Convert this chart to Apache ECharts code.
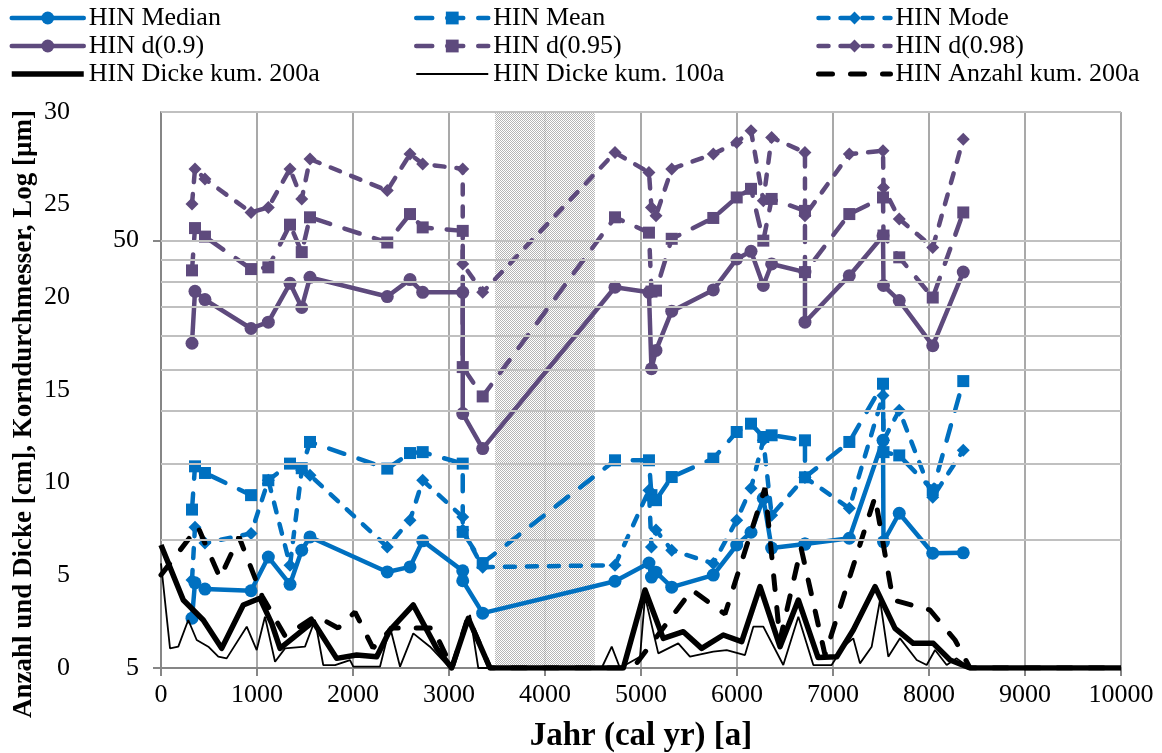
<!DOCTYPE html>
<html><head><meta charset="utf-8">
<script src="https://cdn.jsdelivr.net/npm/echarts@6/dist/echarts.min.js"></script>
<style>html,body{margin:0;padding:0;background:#fff}#c{width:1162px;height:753px}</style>
</head><body><div id="c"></div>
<script>
// ---- data ----
const grainYears = [323, 354, 458, 938, 1118, 1344, 1466, 1552, 2357, 2594, 2726, 3143, 3143, 3351, 4729, 5083, 5109, 5156, 5320, 5753, 5997, 6146, 6274, 6361, 6708, 6708, 7170, 7521, 7526, 7690, 8039, 8357];
const median = [6.54, 7.91, 7.65, 7.58, 9.09, 7.85, 9.43, 10.13, 8.39, 8.62, 9.92, 8.44, 8.0, 6.72, 7.98, 8.80, 8.16, 8.38, 7.73, 8.25, 9.70, 10.39, 12.48, 9.54, 9.75, 9.75, 10.06, 17.05, 9.87, 11.51, 9.28, 9.30];
const mean = [11.74, 14.82, 14.30, 12.69, 13.75, 15.04, 14.67, 16.90, 14.64, 15.92, 16.0, 15.04, 10.41, 8.80, 15.31, 15.31, 12.69, 12.35, 13.99, 15.45, 17.83, 18.65, 17.36, 17.52, 17.05, 13.97, 16.90, 23.13, 16.0, 15.72, 13.03, 23.46];
const mode = [8.03, 10.68, 9.80, 10.32, 13.75, 8.70, 14.51, 14.13, 9.60, 11.09, 13.75, 11.28, 10.51, 8.61, 8.70, 13.03, 9.59, 10.51, 9.43, 8.78, 11.09, 13.17, 17.05, 11.39, 13.97, 13.97, 11.82, 21.72, 17.05, 20.04, 12.55, 16.16];
const d90 = [28.77, 38.06, 36.39, 31.15, 32.22, 39.73, 34.88, 41.03, 37.0, 40.53, 37.85, 37.85, 19.69, 16.31, 38.9, 37.85, 25.07, 27.67, 34.19, 38.34, 45.3, 47.2, 39.26, 44.1, 42.2, 32.22, 41.4, 51.35, 39.26, 36.2, 28.4, 42.2];
const d95 = [42.6, 53.5, 51.1, 42.9, 43.3, 54.5, 47.0, 56.7, 49.5, 57.7, 53.7, 52.7, 25.3, 21.6, 56.7, 52.2, 38.0, 38.2, 50.5, 56.5, 63.1, 66.1, 50.0, 62.6, 58.7, 42.2, 57.7, 63.1, 51.4, 45.7, 36.8, 58.2];
const d98 = [60.9, 73.6, 69.7, 58.2, 59.8, 73.6, 62.6, 77.6, 65.5, 79.7, 75.6, 73.6, 44.1, 37.85, 80.4, 72.2, 59.8, 57.2, 73.6, 79.7, 84.9, 90.4, 62.0, 87.2, 80.4, 57.2, 79.7, 81.2, 66.6, 56.2, 48.2, 86.4];

const dicke200Years = [0, 232, 440, 632, 857, 1031, 1153, 1240, 1586, 1830, 2038, 2247, 2385, 2628, 2872, 3028, 3201, 3427, 4816, 5042, 5232, 5441, 5632, 5857, 6049, 6240, 6448, 6639, 6844, 7039, 7211, 7438, 7646, 7836, 8045, 8219, 8427, 10000];
const dicke200 = [6.64, 3.67, 2.59, 1.06, 3.40, 3.76, 2.41, 1.06, 2.50, 0.52, 0.70, 0.61, 2.05, 3.40, 1.06, 0, 2.68, 0, 0, 4.21, 1.60, 1.96, 1.06, 1.78, 1.42, 4.39, 1.15, 3.67, 0.57, 0.61, 2.05, 4.39, 2.14, 1.33, 1.33, 0.43, 0, 0];

const dicke100Years = [0, 94, 180, 284, 372, 493, 597, 684, 893, 997, 1083, 1188, 1292, 1500, 1604, 1690, 1813, 1969, 2003, 2281, 2385, 2490, 2628, 2802, 3010, 3219, 3305, 4590, 4695, 4781, 4990, 5042, 5180, 5388, 5510, 5753, 5893, 6083, 6170, 6274, 6482, 6639, 6795, 6986, 7107, 7211, 7281, 7403, 7490, 7576, 7698, 7872, 7976, 8063, 8184, 8288, 8427, 10000];
const dicke100 = [5.65, 1.06, 1.15, 2.59, 1.51, 1.15, 0.61, 0.52, 2.23, 0.97, 2.77, 0.34, 1.06, 1.15, 2.59, 0.16, 0.16, 0.43, 0.07, 0.07, 2.23, 0.07, 1.87, 1.15, 0, 2.86, 0, 0, 1.15, 0, 0.61, 3.85, 0.79, 1.33, 0.61, 0.88, 0.97, 0.70, 2.23, 2.23, 0.16, 2.77, 0.16, 0.16, 1.15, 1.60, 0.25, 1.15, 3.67, 0.61, 1.60, 0.43, 0.16, 0.97, 0.16, 0.52, 0, 0];

const anzahlYears = [0, 385, 615, 813, 1052, 1292, 1615, 1844, 2021, 2208, 2406, 2833, 3031, 3198, 3427, 4917, 5531, 5875, 6292, 6448, 6667, 6917, 7438, 7625, 8010, 8271, 8427, 10000];
const anzahl = [5.02, 7.61, 4.86, 7.07, 3.89, 1.73, 2.81, 2.16, 3.02, 1.08, 2.16, 2.16, 0, 2.75, 0, 0, 4.21, 2.91, 9.71, 1.51, 6.48, 0.70, 9.23, 3.67, 3.13, 1.51, 0, 0];

const logGridValues = [10, 15, 20, 25, 30, 35, 40, 45, 50, 100];
const logTickLabels = [5, 50];
const gapRange = [3480, 4520];

// ---- chart ----
const FONT = '"Liberation Serif", "Times New Roman", serif';
const BLUE = '#0070C0', PURPLE = '#5E4A7D', BLACK = '#000000';
const pair = (xs, ys) => xs.map((x, i) => [x, ys[i]]);

// stipple pattern for the gap area
const pat = document.createElement('canvas');
pat.width = 2; pat.height = 2;
(function () {
  const c = pat.getContext('2d');
  c.fillStyle = '#ffffff'; c.fillRect(0, 0, 2, 2);
  c.fillStyle = '#a9a9a9'; c.fillRect(0, 0, 1, 1); c.fillRect(1, 1, 1, 1);
})();

function grainSeries(name, data, color, symbol, size, dash) {
  return {
    name, type: 'line', yAxisIndex: 0, data: pair(grainYears, data),
    symbol, symbolSize: size, showSymbol: true,
    itemStyle: { color },
    lineStyle: { color, width: 4.5, type: dash || 'solid', cap: 'round', join: 'round' },
    z: 3
  };
}

const chart = echarts.init(document.getElementById('c'), null, { renderer: 'canvas' });
const legendBase = {
  orient: 'vertical', top: 5, itemWidth: 72, itemHeight: 16, itemGap: 2, padding: 0,
  lineStyle: { width: 'inherit' },
  textStyle: { fontFamily: FONT, fontSize: 26, color: '#000' }
};
const noSym = n => ({ name: n, itemStyle: { opacity: 0 } });
chart.setOption({
  animation: false,
  backgroundColor: '#fff',
  textStyle: { fontFamily: FONT },
  grid: { left: 161, right: 41, top: 112, bottom: 85, containLabel: false, outerBoundsMode: 'none' },
  legend: [
    Object.assign({}, legendBase, { left: 9, data: ['HIN Median', 'HIN d(0.9)', noSym('HIN Dicke kum. 200a')] }),
    Object.assign({}, legendBase, { left: 414, data: ['HIN Mean', 'HIN d(0.95)', noSym('HIN Dicke kum. 100a')] }),
    Object.assign({}, legendBase, { left: 816, data: ['HIN Mode', 'HIN d(0.98)', noSym('HIN Anzahl kum. 200a')] })
  ],
  xAxis: {
    type: 'value', min: 0, max: 10000, interval: 1000,
    name: 'Jahr (cal yr) [a]', nameLocation: 'middle', nameGap: 52,
    nameTextStyle: { fontFamily: FONT, fontSize: 33, fontWeight: 'bold', color: '#000' },
    axisLine: { lineStyle: { color: '#868686', width: 2 } },
    axisTick: { show: true, inside: false, length: 8, lineStyle: { color: '#868686', width: 2 } },
    axisLabel: { fontFamily: FONT, fontSize: 26, color: '#000', margin: 14, formatter: v => String(v) },
    splitLine: { show: true, lineStyle: { color: '#8c8c8c', width: 1.5 } }
  },
  yAxis: [
    {
      type: 'log', logBase: 10, min: 5, max: 100, position: 'left',
      axisLine: { show: true, lineStyle: { color: '#868686', width: 2 } },
      axisTick: { show: true, inside: false, length: 8, customValues: logTickLabels, lineStyle: { color: '#868686', width: 2 } },
      axisLabel: { fontFamily: FONT, fontSize: 26, color: '#000', margin: 22, customValues: logTickLabels },
      splitLine: { show: false }, minorSplitLine: { show: false }
    },
    {
      type: 'value', min: 0, max: 30, interval: 5, position: 'left', offset: 83,
      axisLine: { show: false }, axisTick: { show: false },
      axisLabel: { fontFamily: FONT, fontSize: 26, color: '#000', margin: 8 },
      splitLine: { show: false }
    }
  ],
  graphic: [{
    type: 'text', x: 24, y: 414, rotation: Math.PI / 2,
    style: { text: 'Anzahl und Dicke [cm], Korndurchmesser, Log [µm]', font: 'bold 27px ' + FONT, fill: '#000', align: 'center', verticalAlign: 'middle' }
  }],
  series: [
    {
      name: 'gridHelper', type: 'line', yAxisIndex: 0, data: [], z: 1, silent: true,
      markLine: {
        silent: true, symbol: 'none', label: { show: false },
        lineStyle: { color: '#c0c0c0', width: 2, type: 'solid' },
        data: logGridValues.map(v => ({ yAxis: v }))
      },
      markArea: {
        silent: true, label: { show: false },
        itemStyle: { color: { image: pat, repeat: 'repeat' }, opacity: 0.85 },
        data: [[{ xAxis: gapRange[0] }, { xAxis: gapRange[1] }]]
      }
    },
    grainSeries('HIN Median', median, BLUE, 'circle', 13),
    grainSeries('HIN Mean', mean, BLUE, 'rect', 12, [16, 15]),
    grainSeries('HIN Mode', mode, BLUE, 'diamond', 13, [10, 12]),
    grainSeries('HIN d(0.9)', d90, PURPLE, 'circle', 13),
    grainSeries('HIN d(0.95)', d95, PURPLE, 'rect', 12, [16, 15]),
    grainSeries('HIN d(0.98)', d98, PURPLE, 'diamond', 13, [10, 12]),
    {
      name: 'HIN Dicke kum. 200a', type: 'line', yAxisIndex: 1, data: pair(dicke200Years, dicke200),
      symbol: 'none', lineStyle: { color: BLACK, width: 5.5, join: 'round' }, itemStyle: { color: BLACK }, z: 4
    },
    {
      name: 'HIN Dicke kum. 100a', type: 'line', yAxisIndex: 1, data: pair(dicke100Years, dicke100),
      symbol: 'none', lineStyle: { color: BLACK, width: 1.8 }, itemStyle: { color: BLACK }, z: 4
    },
    {
      name: 'HIN Anzahl kum. 200a', type: 'line', yAxisIndex: 1, data: pair(anzahlYears, anzahl),
      symbol: 'none', lineStyle: { color: BLACK, width: 5, type: [14, 18], cap: 'round' }, itemStyle: { color: BLACK }, z: 4
    }
  ]
});
</script></body></html>
